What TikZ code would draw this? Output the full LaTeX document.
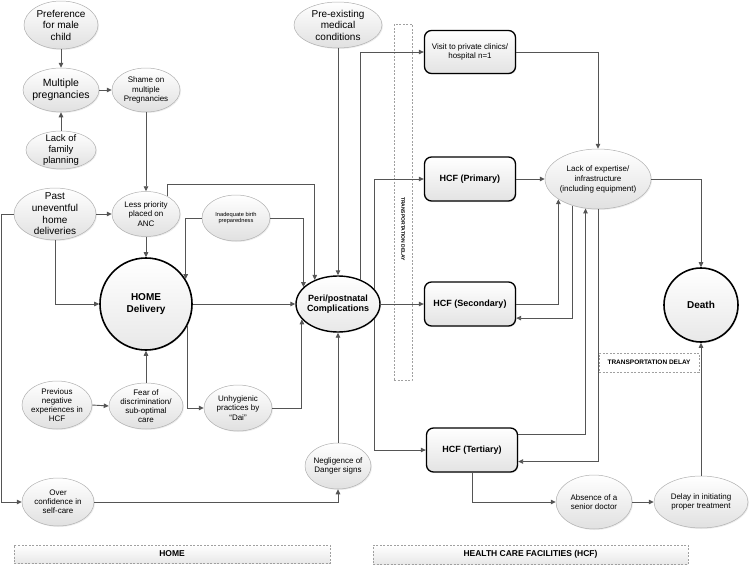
\documentclass[tikz,border=0pt]{standalone}
\usepackage{fontspec}
\setmainfont{Liberation Sans}
\usetikzlibrary{shapes.geometric,arrows.meta,shadows}
\definecolor{ellborder}{HTML}{B0B0B0}
\definecolor{linecol}{HTML}{555555}
\definecolor{dashcol}{HTML}{A0A0A0}
\tikzset{
  fs/.style 2 args={font=\fontsize{#1}{#2}\selectfont},
  ell/.style={ellipse, draw=ellborder, line width=0.5pt, top color=white, bottom color=gray!24,
    inner xsep=-2pt, inner ysep=-6pt, align=center,
    drop shadow={opacity=0.15, shadow xshift=1pt, shadow yshift=-1pt}},
  keycirc/.style={circle, draw=black, line width=1.6pt, top color=white, bottom color=gray!18,
    inner sep=0pt, align=center, font=\bfseries\fontsize{10}{12}\selectfont,
    drop shadow={opacity=0.15, shadow xshift=1pt, shadow yshift=-1pt}},
  hcfbox/.style={rectangle, rounded corners=7pt, draw=black, line width=1.3pt, top color=white,
    bottom color=gray!22, minimum width=91pt, minimum height=44pt, inner sep=1pt, align=center,
    drop shadow={opacity=0.15, shadow xshift=1pt, shadow yshift=-1pt}},
  dashbox/.style={rectangle, draw=dashcol, dashed, dash pattern=on 2pt off 1.5pt, line width=0.5pt, inner sep=0pt},
  conn/.style={draw=linecol, line width=0.9pt, -{Triangle[length=5pt,width=4.5pt]}},
}
\begin{document}
\begin{tikzpicture}[x=1pt,y=-1pt]
\useasboundingbox (0,0) rectangle (750,565);

% dashed region boxes
\node[dashbox, minimum width=18pt, minimum height=356pt] (tdv) at (403,202) {};
\node[rotate=-90, font=\bfseries\fontsize{5}{6}\selectfont] (tdvt) at (403,229) {TRANSPORTATION DELAY};
\node[dashbox, minimum width=100pt, minimum height=19pt, font=\bfseries\fontsize{6.5}{7.5}\selectfont] (tdh) at (649,362.5) {TRANSPORTATION DELAY};
\node[dashbox, top color=white, bottom color=gray!18, minimum width=316pt, minimum height=18pt, font=\bfseries\fontsize{8.5}{10}\selectfont] (homebox) at (172,554) {HOME};
\node[dashbox, top color=white, bottom color=gray!18, minimum width=315pt, minimum height=19pt, font=\bfseries\fontsize{8.5}{10}\selectfont] (hcfarea) at (530.5,554.5) {HEALTH CARE FACILITIES (HCF)};

% ellipses
\node[ell, fs={10}{11.5}, minimum width=74pt, minimum height=48pt] (pref) at (61,25) {Preference\\for male\\child};
\node[ell, fs={10.5}{12}, minimum width=76pt, minimum height=44pt] (mult) at (61,90) {Multiple\\pregnancies};
\node[ell, fs={8}{9.2}, minimum width=68pt, minimum height=44pt] (shame) at (146,90) {Shame on\\multiple\\Pregnancies};
\node[ell, fs={9.5}{10.8}, minimum width=70pt, minimum height=38pt] (lackfp) at (61,150) {Lack of\\family\\planning};
\node[ell, fs={10}{11.6}, minimum width=82pt, minimum height=52pt] (past) at (55,214) {Past\\uneventful\\home\\deliveries};
\node[ell, fs={8}{9.2}, minimum width=68pt, minimum height=45pt] (less) at (146,214) {Less priority\\placed on\\ANC};
\node[keycirc, minimum size=92pt] (home) at (146,304) {HOME\\Delivery};
\node[ell, fs={5.7}{6.8}, minimum width=68pt, minimum height=46pt] (inad) at (236,218) {Inadequate birth\\preparedness};
\node[ellipse, draw=black, line width=1.4pt, top color=white, bottom color=gray!18, inner xsep=-2pt, inner ysep=-6pt,
  align=center, font=\bfseries\fontsize{9}{10.5}\selectfont, minimum width=84pt, minimum height=56pt,
  drop shadow={opacity=0.15, shadow xshift=1pt, shadow yshift=-1pt}] (peri) at (338,304) {Peri/postnatal\\Complications};
\node[ell, fs={10}{11.5}, minimum width=88pt, minimum height=46pt] (pre) at (338,25) {Pre-existing\\medical\\conditions};
\node[ell, fs={8}{9.2}, minimum width=70pt, minimum height=48pt] (prev) at (57,405) {Previous\\negative\\experiences in\\HCF};
\node[ell, fs={8}{9.2}, minimum width=74pt, minimum height=46pt] (fear) at (146,406) {Fear of\\discrimination/\\sub-optimal\\care};
\node[ell, fs={8}{9.2}, minimum width=68pt, minimum height=46pt] (unhyg) at (238,408) {Unhygienic\\practices by\\“Dai”};
\node[ell, fs={8}{9.2}, minimum width=72pt, minimum height=48pt] (over) at (58,502) {Over\\confidence in\\self-care};
\node[ell, fs={8}{9.2}, minimum width=66pt, minimum height=46pt] (neg) at (338,466) {Negligence of\\Danger signs};
\node[ell, fs={8}{9.2}, minimum width=76pt, minimum height=54pt] (absence) at (594,502) {Absence of a\\senior doctor};
\node[ell, fs={8}{9.2}, minimum width=94pt, minimum height=52pt] (delay) at (701,502) {Delay in initiating\\proper treatment};
\node[ell, fs={8}{10}, minimum width=106pt, minimum height=60pt] (lack) at (598,179) {Lack of expertise/\\infrastructure\\(including equipment)};
\node[keycirc, minimum size=74pt] (death) at (701,305) {Death};

% facility boxes
\node[hcfbox, font=\fontsize{8}{9.5}\selectfont, minimum height=43pt] (visit) at (470,52) {Visit to private clinics/\\hospital n=1};
\node[hcfbox, font=\bfseries\fontsize{9}{10}\selectfont] (primary) at (470,179) {HCF (Primary)};
\node[hcfbox, font=\bfseries\fontsize{9}{10}\selectfont] (secondary) at (470,304) {HCF (Secondary)};
\node[hcfbox, font=\bfseries\fontsize{9}{10}\selectfont] (tertiary) at (472,450) {HCF (Tertiary)};

% connectors - home side
\draw[conn] (pref.south) -- (mult.north);
\draw[conn] (lackfp.north) -- (mult.south);
\draw[conn] (mult.east) -- (shame.west);
\draw[conn] (shame.south) -- (less.north);
\draw[conn] (past.east) -- (less.west);
\draw[conn] (less.south) -- (home.north);
\draw[conn] (past.south) |- (home.west);
\draw[conn] (past.west) -- ++(-12,0) |- (over.west);
\draw[conn] (over.east) -| (neg.south);
\draw[conn] (neg.north) -- (peri.south);
\draw[conn] (prev.east) -- (fear.west);
\draw[conn] (fear.north) -- (home.south);
\draw[conn] (home.east) -- (peri.west);
\draw[conn] (less.40) -- ++(0,-12) -| (peri.134.5);
\draw[conn] (inad.west) -| (home.32);
\draw[conn] (inad.east) -| (peri.154.2);
\draw[conn] (home.-27) |- (unhyg.west);
\draw[conn] (unhyg.east) -| (peri.203.9);
\draw[conn] (pre.south) -- (peri.north);

% connectors - facility side
\draw[conn] (peri.47.3) |- (visit.west);
\draw[conn] (peri.23.9) |- (primary.west);
\draw[conn] (peri.east) -- (secondary.west);
\draw[conn] (peri.-23.9) |- (tertiary.west);
\draw[conn] (visit.east) -| (lack.north);
\draw[conn] (primary.east) -- (lack.west);
\draw[conn] (secondary.east) -| (lack.207.5);
\draw[conn] (lack.226.6) |- (secondary.-17.1);
\draw[conn] (tertiary.19.4) -| (lack.247.7);
\draw[conn] (lack.south) |- (tertiary.-14.8);
\draw[conn] (lack.east) -| (death.north);
\draw[conn] (tertiary.south) |- (absence.west);
\draw[conn] (absence.east) -- (delay.west);
\draw[conn] (delay.north) -- (death.south);
\end{tikzpicture}
\end{document}
